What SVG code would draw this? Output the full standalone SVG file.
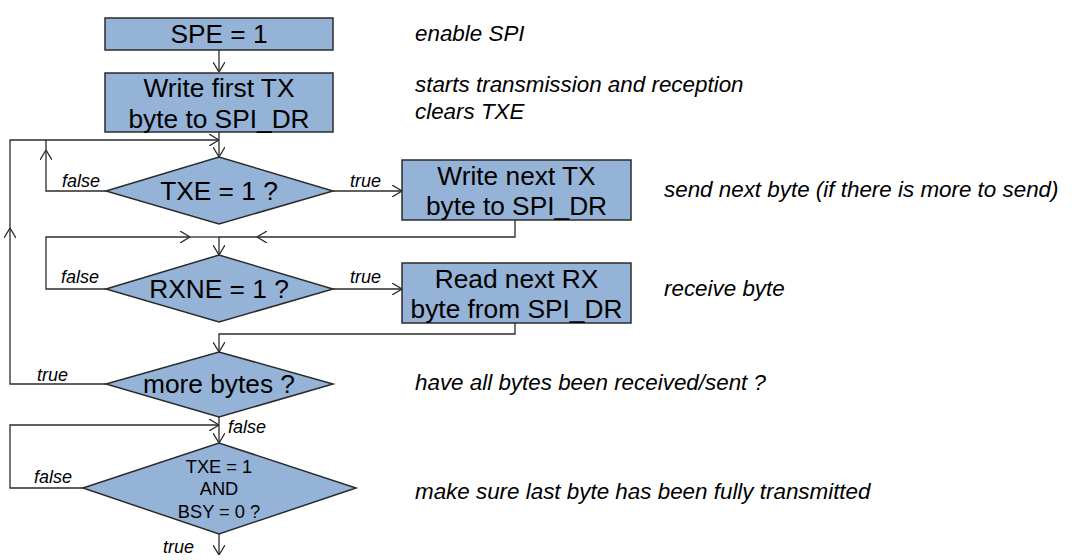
<svg xmlns="http://www.w3.org/2000/svg" width="1086" height="560" viewBox="0 0 1086 560">
<defs>
<style>
.box{fill:#95B3D7;stroke:#2b2b2b;stroke-width:1.5}
.t{font-family:"Liberation Sans",Arial,sans-serif;fill:#000}
.big{font-size:26.3px}
.mid{font-size:18.3px}
.lbl{font-size:18px;font-style:italic}
.cmt{font-size:22.4px;font-style:italic}
.ln{fill:none;stroke:#2b2b2b;stroke-width:1.3}
</style>
<marker id="ah" viewBox="0 0 10 12" refX="10" refY="6" markerWidth="10" markerHeight="12" markerUnits="userSpaceOnUse" orient="auto">
<path d="M0,0 L10,6 L0,12" fill="none" stroke="#2b2b2b" stroke-width="1.3"/>
</marker>
</defs>
<rect width="1086" height="560" fill="#fff"/>
<g id="connectors">
<path class="ln" d="M219,50 V72" marker-end="url(#ah)"/>
<path class="ln" d="M219,132 V157" marker-end="url(#ah)"/>
<path class="ln" d="M106,384 H10 V228" marker-end="url(#ah)"/>
<path class="ln" d="M10,228 V140 H219" marker-end="url(#ah)"/>
<path class="ln" d="M106,191 H46 V150" marker-end="url(#ah)"/>
<path class="ln" d="M46,150 V140"/>
<path class="ln" d="M333,191 H402" marker-end="url(#ah)"/>
<path class="ln" d="M515,220 V237 H257" marker-end="url(#ah)"/>
<path class="ln" d="M257,237 H219"/>
<path class="ln" d="M106,289 H46 V237 H190" marker-end="url(#ah)"/>
<path class="ln" d="M190,237 H219"/>
<path class="ln" d="M219,237 V255" marker-end="url(#ah)"/>
<path class="ln" d="M333,289 H402" marker-end="url(#ah)"/>
<path class="ln" d="M515,323 V334 H219 V352" marker-end="url(#ah)"/>
<path class="ln" d="M219,417 V443" marker-end="url(#ah)"/>
<path class="ln" d="M83,488 H10 V425 H219" marker-end="url(#ah)"/>
<path class="ln" d="M219,534 V555" marker-end="url(#ah)"/>
<text class="t lbl" x="62" y="187">false</text>
<text class="t lbl" x="350" y="187">true</text>
<text class="t lbl" x="61" y="283">false</text>
<text class="t lbl" x="350" y="283">true</text>
<text class="t lbl" x="37" y="381">true</text>
<text class="t lbl" x="228" y="433">false</text>
<text class="t lbl" x="34" y="483">false</text>
<text class="t lbl" x="163" y="553">true</text>
</g>
<g id="spe">
<rect class="box" x="105" y="18" width="228" height="32"/>
<text class="t big" x="219" y="43" text-anchor="middle">SPE = 1</text>
</g>
<g id="write-first">
<rect class="box" x="105" y="73" width="228" height="59"/>
<text class="t big" x="219" y="97" text-anchor="middle">Write first TX</text>
<text class="t big" x="219" y="128" text-anchor="middle">byte to SPI_DR</text>
</g>
<g id="txe">
<polygon class="box" points="106,191 219,157 333,191 219,224"/>
<text class="t big" x="219" y="200" text-anchor="middle">TXE = 1 ?</text>
</g>
<g id="write-next">
<rect class="box" x="402" y="160" width="229" height="60"/>
<text class="t big" x="516.5" y="185" text-anchor="middle">Write next TX</text>
<text class="t big" x="516.5" y="215" text-anchor="middle">byte to SPI_DR</text>
</g>
<g id="rxne">
<polygon class="box" points="106,289 219,255 333,289 219,322"/>
<text class="t big" x="219" y="298" text-anchor="middle">RXNE = 1 ?</text>
</g>
<g id="read-next">
<rect class="box" x="402" y="263" width="229" height="60"/>
<text class="t big" x="516.5" y="288" text-anchor="middle">Read next RX</text>
<text class="t big" x="516.5" y="318" text-anchor="middle">byte from SPI_DR</text>
</g>
<g id="more-bytes">
<polygon class="box" points="106,384 219,352 333,384 219,417"/>
<text class="t big" x="219" y="393" text-anchor="middle">more bytes ?</text>
</g>
<g id="txe-bsy">
<polygon class="box" points="83,488 219,443 356,488 219,534"/>
<text class="t mid" x="219" y="473" text-anchor="middle">TXE = 1</text>
<text class="t mid" x="219" y="495" text-anchor="middle">AND</text>
<text class="t mid" x="219" y="518" text-anchor="middle">BSY = 0 ?</text>
</g>
<g id="comments">
<text class="t cmt" x="415" y="41">enable SPI</text>
<text class="t cmt" x="415" y="92">starts transmission and reception</text>
<text class="t cmt" x="415" y="119">clears TXE</text>
<text class="t cmt" x="664" y="197">send next byte (if there is more to send)</text>
<text class="t cmt" x="664" y="296">receive byte</text>
<text class="t cmt" x="415" y="390">have all bytes been received/sent ?</text>
<text class="t cmt" x="415" y="499">make sure last byte has been fully transmitted</text>
</g>
</svg>
